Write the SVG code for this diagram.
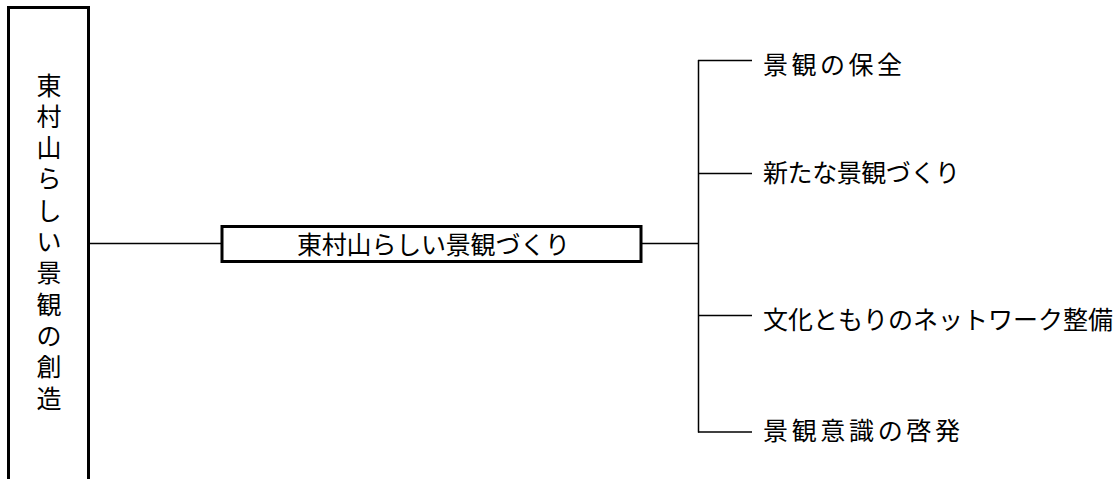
<svg xmlns="http://www.w3.org/2000/svg" width="1117" height="479" viewBox="0 0 1117 479">
<style>
.box{fill:#fff;stroke:#000;stroke-width:3}
.ln{fill:none;stroke:#000;stroke-width:1.5}
.t{font-family:"Noto Sans CJK JP","Noto Sans",sans-serif;fill:#000}
.r{font-size:25px}
.v{font-size:25px;text-anchor:middle}
</style>
<rect width="1117" height="479" fill="#fff"/>
<g id="connectors">
<line class="ln" x1="88" y1="243.5" x2="222" y2="243.5"/>
<line class="ln" x1="641" y1="243.5" x2="698.5" y2="243.5"/>
<line class="ln" x1="698.5" y1="60" x2="698.5" y2="432.5"/>
<line class="ln" x1="698" y1="60.5" x2="752" y2="60.5"/>
<line class="ln" x1="698" y1="173.5" x2="752" y2="173.5"/>
<line class="ln" x1="698" y1="315.5" x2="752" y2="315.5"/>
<line class="ln" x1="698" y1="432" x2="752" y2="432"/>
</g>
<g id="root">
<rect class="box" x="8.5" y="7.5" width="80" height="490"/>
<text class="t v" x="49" y="94.5">東</text>
<text class="t v" x="49" y="125.8">村</text>
<text class="t v" x="49" y="157.1">山</text>
<text class="t v" x="49" y="188.4">ら</text>
<text class="t v" x="49" y="219.7">し</text>
<text class="t v" x="49" y="251">い</text>
<text class="t v" x="49" y="282.3">景</text>
<text class="t v" x="49" y="313.6">観</text>
<text class="t v" x="49" y="344.9">の</text>
<text class="t v" x="49" y="376.2">創</text>
<text class="t v" x="49" y="407.5">造</text>
</g>
<g id="middle">
<rect class="box" x="222" y="226.5" width="419" height="35"/>
<text class="t" x="297" y="253.5" font-size="25" textLength="273" lengthAdjust="spacing">東村山らしい景観づくり</text>
</g>
<g id="b1"><text class="t r" x="763" y="73.5" textLength="139" lengthAdjust="spacing">景観の保全</text></g>
<g id="b2"><text class="t r" x="763" y="181.5" textLength="197" lengthAdjust="spacing">新たな景観づくり</text></g>
<g id="b3"><text class="t r" x="763" y="328.5" textLength="350" lengthAdjust="spacing">文化ともりのネットワーク整備</text></g>
<g id="b4"><text class="t r" x="763" y="439.5" textLength="197" lengthAdjust="spacing">景観意識の啓発</text></g>
</svg>
